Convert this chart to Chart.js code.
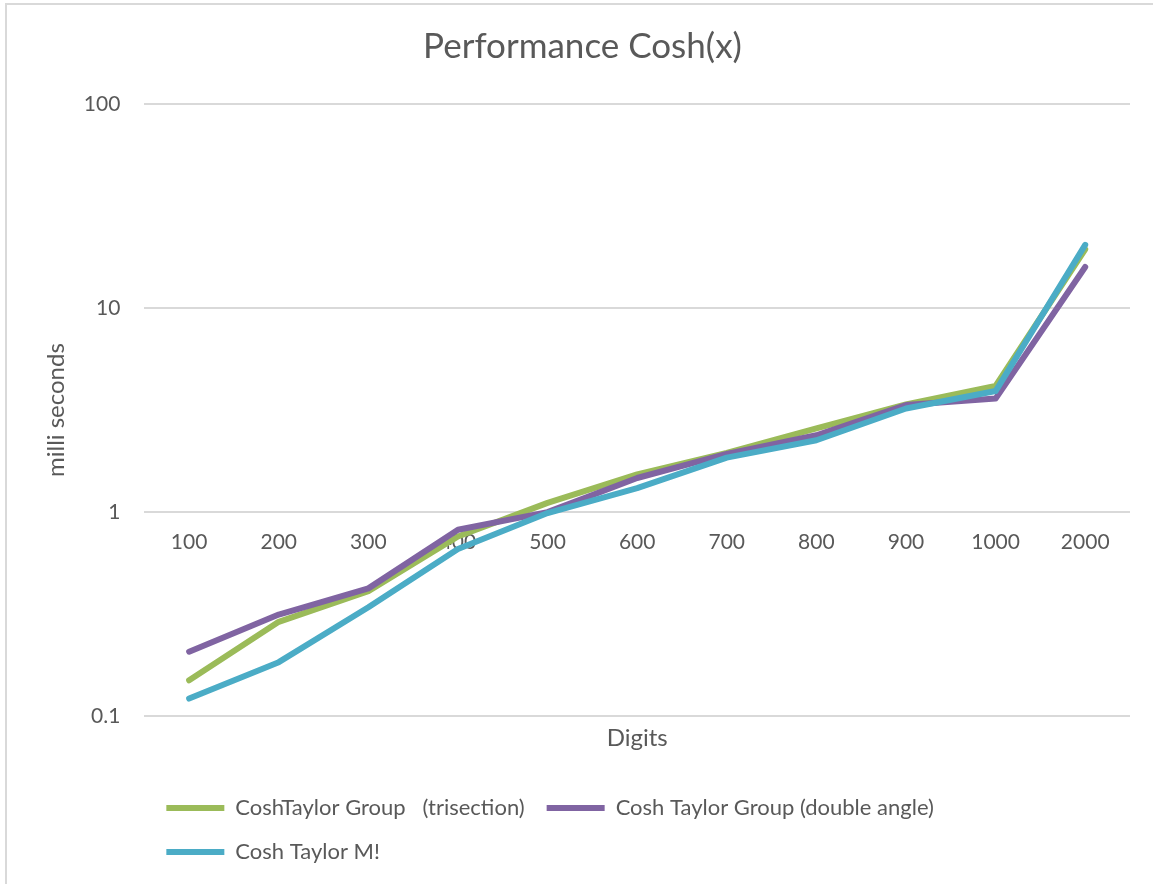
<!DOCTYPE html>
<html>
<head>
<meta charset="utf-8">
<script src="https://cdn.jsdelivr.net/npm/chart.js@4.4.0/dist/chart.umd.min.js"></script>
<style>
  html, body { margin: 0; padding: 0; background: #fff; }
  #cadre { position: absolute; left: 5px; top: 3px; width: 1148px; height: 881px;
           border-left: 2px solid #d9d9d9; border-top: 2px solid #d9d9d9; box-sizing: border-box; }
  #myChart { display: block; }
</style>
</head>
<body>
<div id="cadre"><canvas id="myChart" width="1146" height="879"></canvas></div>
<script>
// donnees (millisecondes)
let digits = ['100', '200', '300', '400', '500', '600', '700', '800', '900', '1000', '2000'];
let trisection = [0.15, 0.29, 0.41, 0.76, 1.11, 1.53, 1.95, 2.57, 3.37, 4.15, 19.4];
let doubleAngle = [0.207, 0.315, 0.423, 0.82, 1.0, 1.47, 1.93, 2.38, 3.35, 3.6, 15.9];
let taylorM = [0.122, 0.184, 0.342, 0.66, 0.99, 1.31, 1.85, 2.25, 3.22, 3.92, 20.4];
let yTicks = [0.1, 1, 10, 100];

let police = 'Lato, "Open Sans", sans-serif';
let gris = '#595959';

let ctx = document.getElementById('myChart').getContext('2d');
new Chart(ctx, {
  type: 'line',
  data: {
    labels: digits,
    datasets: [
      { label: 'CoshTaylor Group   (trisection)', data: trisection, borderColor: '#9BBB59', backgroundColor: '#9BBB59', borderWidth: 6, borderCapStyle: 'round', order: 3 },
      { label: 'Cosh Taylor Group (double angle)', data: doubleAngle, borderColor: '#8064A2', backgroundColor: '#8064A2', borderWidth: 6, borderCapStyle: 'round', order: 2 },
      { label: 'Cosh Taylor M!', data: taylorM, borderColor: '#4BACC6', backgroundColor: '#4BACC6', borderWidth: 6, borderCapStyle: 'round', order: 1 }
    ]
  },
  options: {
    responsive: false,
    animation: false,
    elements: {
      line: { tension: 0, borderJoinStyle: 'round', fill: false },
      point: { radius: 0, hoverRadius: 0 }
    },
    layout: { padding: { left: 28, right: 23, top: 0, bottom: 11 } },
    plugins: {
      tooltip: { enabled: false },
      title: {
        display: true,
        text: 'Performance Cosh(x)',
        color: gris,
        font: { family: police, size: 35, weight: 'normal' },
        padding: { top: 21, bottom: 36 }
      },
      // titre de l'axe x place sous la zone du graphique
      subtitle: {
        display: true,
        text: 'Digits',
        position: 'bottom',
        fullSize: false,
        weight: 500,
        color: gris,
        font: { family: police, size: 24, weight: 'normal' },
        padding: { top: 8, bottom: 22 }
      },
      legend: {
        position: 'bottom',
        align: 'start',
        fullSize: false,
        labels: {
          usePointStyle: true,
          pointStyle: 'line',
          pointStyleWidth: 58,
          padding: 22,
          color: gris,
          font: { family: police, size: 22 },
          sort: (a, b) => a.datasetIndex - b.datasetIndex
        }
      }
    },
    scales: {
      x: {
        position: { y: 1 },
        offset: true,
        grid: { display: false },
        border: { display: false },
        ticks: { color: gris, font: { family: police, size: 21 }, padding: 10, maxRotation: 0, autoSkip: false }
      },
      y: {
        type: 'logarithmic',
        min: 0.1,
        max: 100,
        afterBuildTicks: (axis) => { axis.ticks = yTicks.map(v => ({ value: v })); },
        grid: { color: '#d9d9d9', lineWidth: 2, drawTicks: false },
        border: { display: false },
        ticks: { color: gris, font: { family: police, size: 21 }, padding: 24, callback: (v) => String(v) },
        title: {
          display: true,
          text: 'milli seconds',
          color: gris,
          font: { family: police, size: 24 },
          padding: { top: 7, bottom: -11 }
        }
      }
    }
  }
});
</script>
</body>
</html>
